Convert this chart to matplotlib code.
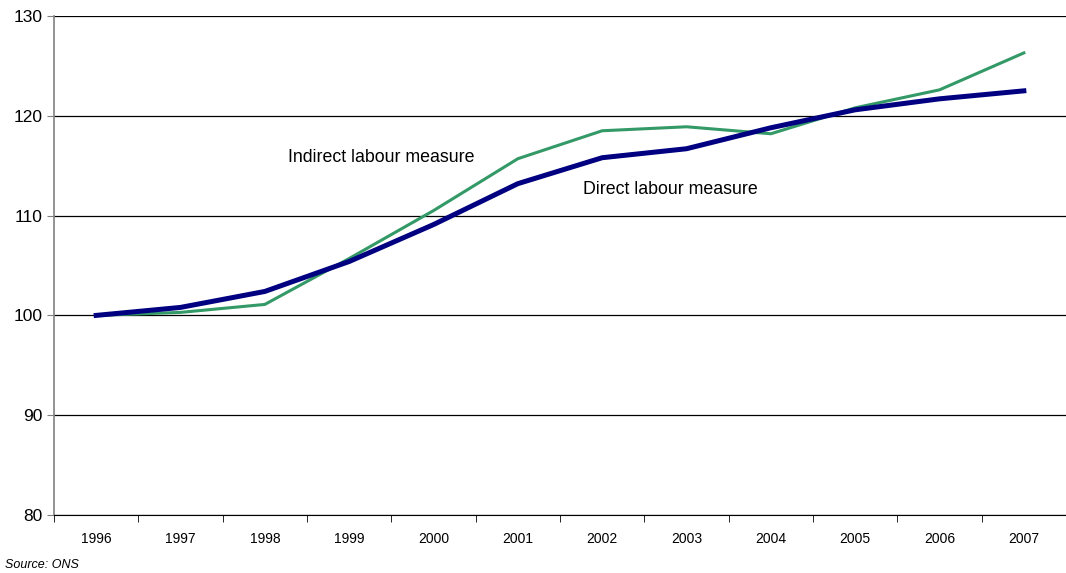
import numpy as np
import matplotlib
matplotlib.use("Agg")
from matplotlib import pyplot as plt

plt.rcParams["font.family"] = ["Liberation Sans", "DejaVu Sans"]

years = ["1996", "1997", "1998", "1999", "2000", "2001",
         "2002", "2003", "2004", "2005", "2006", "2007"]
direct = [100.0, 100.8, 102.4, 105.4, 109.1, 113.2,
          115.8, 116.7, 118.8, 120.6, 121.7, 122.5]
indirect = [100.0, 100.3, 101.1, 105.7, 110.5, 115.7,
            118.5, 118.9, 118.2, 120.8, 122.6, 126.3]

NAVY = "#000080"
GREEN = "#339966"

fig = plt.figure(figsize=(10.66, 5.73), dpi=100)
ax = fig.add_axes([54 / 1066, 1 - 515 / 573, 1 - 54 / 1066, (515 - 16) / 573])

x = np.arange(len(years))
ax.plot(x, indirect, color=GREEN, linewidth=2.2, zorder=3)
ax.plot(x, direct, color=NAVY, linewidth=3.6, zorder=4)

ax.set_xlim(-0.5, len(years) - 0.5)
ax.set_ylim(80, 130)
ax.set_yticks(range(80, 131, 10))
ax.tick_params(axis="y", labelsize=12.5, length=5, direction="out", color="#808080")

ax.set_xticks(x)
ax.set_xticklabels(years)
ax.set_xticks(np.arange(-0.5, len(years)), minor=True)
ax.tick_params(axis="x", which="major", length=0, labelsize=10, pad=12)
ax.tick_params(axis="x", which="minor", length=5, direction="out", color="#000000")

ax.grid(axis="y", color="#000000", linewidth=0.9)
ax.set_axisbelow(True)
for side in ["top", "right"]:
    ax.spines[side].set_visible(False)
ax.spines["left"].set_color("#808080")
ax.spines["left"].set_linewidth(1.2)
ax.spines["bottom"].set_color("#000000")

ax.text(2.27, 115.8, "Indirect labour measure", fontsize=12.8, ha="left", va="center")
ax.text(5.77, 112.6, "Direct labour measure", fontsize=12.8, ha="left", va="center")

fig.text(5 / 1066, 1 - 565 / 573, "Source: ONS", fontsize=9, style="italic", ha="left", va="center")

fig.savefig("out.png", dpi=100)
